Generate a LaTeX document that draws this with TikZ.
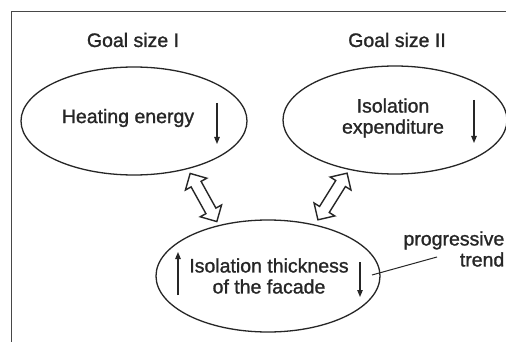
\documentclass[tikz,border=0pt]{standalone}
\usepackage{fontspec}
\setmainfont{Liberation Sans}[FakeBold=1.2]
\usetikzlibrary{shapes.geometric,shapes.arrows,arrows.meta}
\definecolor{ink}{gray}{0.15}
\begin{document}
\begin{tikzpicture}[x=1pt,y=-1pt,
  txt/.style={inner sep=0pt,text=ink,font=\fontsize{19.5}{21}\selectfont,align=center},
  oval/.style={ellipse,draw=ink,line width=1.3pt,inner sep=0pt},
  trendarrow/.style={draw=ink,line width=1.1pt,-{Triangle[length=7pt,width=5.5pt]}},
  dbl/.style={double arrow,draw=ink,fill=white,line width=1.4pt,inner sep=5pt,
    minimum height=55pt,double arrow head extend=6.5pt,double arrow tip angle=90},
  leader/.style={draw=ink,line width=1pt}]
\useasboundingbox (0,0) rectangle (506,342);
\clip (0,0) rectangle (506,342);
\fill[white] (0,0) rectangle (506,342);
\draw[draw=ink!85,line width=1.4pt] (11.5,360) -- (11.5,11.5) -- (530,11.5);
% ellipses
\node[oval,minimum width=226pt,minimum height=108pt] (e1) at (134,121) {};
\node[oval,minimum width=224pt,minimum height=108pt] (e2) at (395,120) {};
\node[oval,minimum width=224pt,minimum height=112pt] (e3) at (268,276) {};
% headings
\node[txt] (g1) at (133,40) {Goal size I};
\node[txt] (g2) at (397,40) {Goal size II};
% texts
\node[txt] (t1) at (128,118) {Heating energy};
\node[txt] (t2) at (393,118) {Isolation\\expenditure};
\node[txt] (t3) at (269,276) {Isolation thickness\\of the facade};
% trend arrows
\coordinate (a1s) at (217,103); \coordinate (a1e) at (217,144);
\coordinate (a2s) at (474,100); \coordinate (a2e) at (474,143);
\coordinate (a3s) at (178,295); \coordinate (a3e) at (178,252);
\coordinate (a4s) at (360,262); \coordinate (a4e) at (360,297);
\draw[trendarrow] (a1s) -- (a1e);
\draw[trendarrow] (a2s) -- (a2e);
\draw[trendarrow] (a3s) -- (a3e);
\draw[trendarrow] (a4s) -- (a4e);
% double arrows between ellipses
\node[dbl,rotate=-61] (d1) at (203.5,197.5) {};
\node[dbl,rotate=58] (d2) at (332.5,196.5) {};
% label
\node[txt,anchor=east,align=right] (lab) at (504.5,249) {progressive\\trend};
\coordinate (l1) at (372,275);
\coordinate (l2) at (437,257);
\draw[leader] (l1) -- (l2);
\end{tikzpicture}
\end{document}
